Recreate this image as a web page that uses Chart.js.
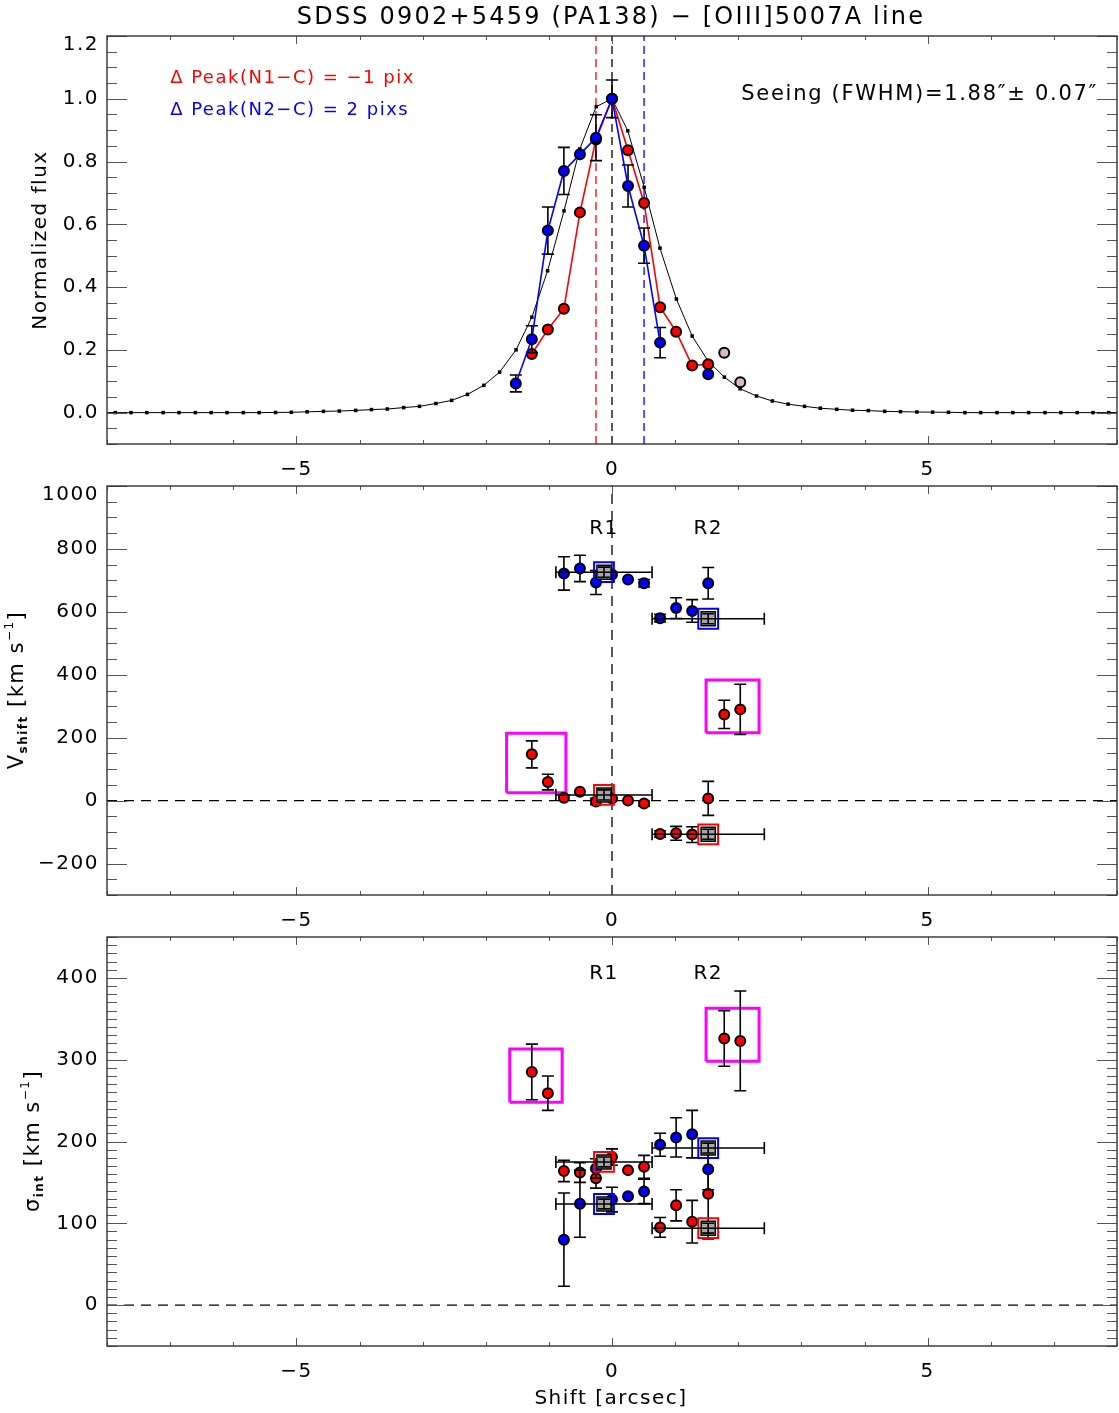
<!DOCTYPE html>
<html>
<head>
<meta charset="utf-8">
<title>SDSS 0902+5459 (PA138) - [OIII]5007A line</title>
<script src="https://cdn.jsdelivr.net/npm/chart.js@4.4.1/dist/chart.umd.min.js"></script>
<style>
html,body{margin:0;padding:0;background:#fff;}
#wrap{position:relative;width:1119px;height:1413px;overflow:hidden;background:#fff;}
#wrap canvas{position:absolute;left:0;}
</style>
</head>
<body>
<div id="wrap">
<canvas id="c1" width="1119" height="480" style="top:0px"></canvas>
<canvas id="c2" width="1119" height="480" style="top:450px"></canvas>
<canvas id="c3" width="1119" height="513" style="top:900px"></canvas>
</div>
<script>
// ================= DATA =================
const xTickValues = [-5, 0, 5];
const fluxTickValues = [0, 0.2, 0.4, 0.6, 0.8, 1.0, 1.2];
const vTickValues = [-200, 0, 200, 400, 600, 800, 1000];
const sigmaTickValues = [0, 100, 200, 300, 400];

// seeing profile (small black squares)
const profileX = [-8.13,-7.87,-7.62,-7.37,-7.11,-6.86,-6.60,-6.35,-6.10,-5.84,-5.59,-5.33,-5.08,-4.83,-4.57,-4.32,-4.06,-3.81,-3.56,-3.30,-3.05,-2.79,-2.54,-2.29,-2.03,-1.78,-1.52,-1.27,-1.02,-0.76,-0.51,-0.25,0,
  0.25,0.51,0.76,1.02,1.27,1.52,1.78,2.03,2.29,2.54,2.79,3.05,3.30,3.56,3.81,4.06,4.32,4.57,4.83,5.08,5.33,5.59,5.84,6.10,6.35,6.60,6.86,7.11,7.37,7.62,7.87,8.13];
const profileFlux = [0,0,0,0,0,0,0,0,0,0,0,
  0.0005,0.001,0.0025,0.004,0.005,0.007,0.0096,0.0115,0.016,0.020,0.029,0.039,0.058,0.087,0.129,0.200,0.304,0.452,0.643,0.840,0.975,1.000,
  0.898,0.718,0.524,0.362,0.244,0.165,0.113,0.076,0.053,0.037,0.027,0.020,0.014,0.0105,0.0075,0.0064,0.004,0.003,0.002,0.0015,0.001,
  0,0,0,0,0,0,0,0,0,0,0];

// N1 (red) and N2 (blue) spatial profiles
const redFluxX = [-1.27,-1.016,-0.762,-0.508,-0.254,0,0.254,0.508,0.762,1.016,1.27,1.524];
const redFlux  = [0.187,0.265,0.331,0.638,0.870,1.0,0.836,0.668,0.336,0.258,0.150,0.154];
const blueFluxX = [-1.524,-1.27,-1.016,-0.762,-0.508,-0.254,0,0.254,0.508,0.762,1.524];
const blueFlux  = [0.093,0.234,0.580,0.770,0.823,0.876,1.0,0.722,0.532,0.223,0.122];
const blueFluxErr = [0.027,0.043,0.075,0.075,0,0.073,0.06,0.067,0.056,0.048,0];
const extraFluxX = [1.778,2.032];
const extraFlux  = [0.191,0.097];
const peakLineX = [-0.254, 0, 0.508];   // N1 peak, centre, N2 peak

// velocity shift
const redX  = [-1.27,-1.016,-0.762,-0.508,-0.254,0,0.254,0.508,0.762,1.016,1.27,1.524,1.778,2.032];
const redV  = [147,59,9,28,-3,7,0,-9,-106,-104,-108,7,274,290];
const redVErr = [43,25,8,0,10,0,0,8,10,22,25,54,45,80];
const blueX = [-0.762,-0.508,-0.254,0,0.254,0.508,0.762,1.016,1.27,1.524];
const blueV = [722,738,693,719,703,691,580,612,603,691];
const blueVErr = [53,42,38,0,0,12,12,33,36,50];
const regionNames = ['R1','R2'];
const regionX = [-0.127, 1.524];
const regionXErr = [0.762, 0.889];
const regionRedV = [18, -107];
const regionBlueV = [726, 578];
const regionVErr = [16, 16];
const boxVX = [[-1.67,-0.73],[1.49,2.33]];
const boxVY = [[25,214],[216,383]];

// intrinsic dispersion
const redSigma = [285,259,164,162,155,181,165,169,95,122,102,136,326,323];
const redSigmaErr = [34,21,13,12,12,10,0,14,12,19,26,55,34,61];
const blueSigma = [80,124,167,129,133,139,196,205,209,166];
const blueSigmaErr = [57,41,12,15,0,15,14,24,29,25];
const regionRedSigma = [175, 94];
const regionBlueSigma = [123.6, 192];
const regionSigmaErr = [6, 6];
const boxSX = [[-1.62,-0.79],[1.49,2.33]];
const boxSY = [[248,313],[298,363]];

// ================= STYLE / HELPERS =================
const FAMILY = "'DejaVu Sans', sans-serif";
const LS = '1.5px';
const RED = '#ff0000', BLUE = '#0000ff', MAG = '#ff00ff', PINK = '#dbb9b6', GRAY = '#a6a6a6';

Chart.defaults.font.family = FAMILY;
Chart.defaults.font.size = 20;
Chart.defaults.color = '#000';
Chart.defaults.animation = false;

const pts = (xs, ys) => xs.map((x, i) => ({x: x, y: ys[i]}));
const fmtNum = (v, d) => Number(v).toFixed(d).replace('-', '\u2212');

function setLS(chart) { try { chart.ctx.letterSpacing = LS; } catch (e) {} }
const lsPlugin = { id: 'ls', beforeUpdate: setLS, beforeLayout: setLS, beforeDraw: setLS };

function drawErr(chart, ds) {
  if (!ds.errY && !ds.errX) return;
  const xs = chart.scales.x, ys = chart.scales.y, ctx = chart.ctx, a = chart.chartArea;
  ctx.save();
  ctx.beginPath(); ctx.rect(a.left, a.top, a.right - a.left, a.bottom - a.top); ctx.clip();
  ctx.strokeStyle = '#000'; ctx.lineWidth = 1.6;
  const cap = 6;
  ds.data.forEach((p, i) => {
    const px = xs.getPixelForValue(p.x), py = ys.getPixelForValue(p.y);
    const ey = ds.errY ? ds.errY[i] : 0;
    const ex = ds.errX ? ds.errX[i] : 0;
    ctx.beginPath();
    if (ey > 0) {
      const y1 = ys.getPixelForValue(p.y - ey), y2 = ys.getPixelForValue(p.y + ey);
      ctx.moveTo(px, y1); ctx.lineTo(px, y2);
      ctx.moveTo(px - cap, y1); ctx.lineTo(px + cap, y1);
      ctx.moveTo(px - cap, y2); ctx.lineTo(px + cap, y2);
    }
    if (ex > 0) {
      const x1 = xs.getPixelForValue(p.x - ex), x2 = xs.getPixelForValue(p.x + ex);
      ctx.moveTo(x1, py); ctx.lineTo(x2, py);
      ctx.moveTo(x1, py - cap); ctx.lineTo(x1, py + cap);
      ctx.moveTo(x2, py - cap); ctx.lineTo(x2, py + cap);
    }
    ctx.stroke();
  });
  ctx.restore();
}
const errPlugin = {
  id: 'errbars',
  beforeDatasetDraw(chart, args) { const ds = chart.data.datasets[args.index]; if (!ds.errAfter) drawErr(chart, ds); },
  afterDatasetDraw(chart, args) { const ds = chart.data.datasets[args.index]; if (ds.errAfter) drawErr(chart, ds); }
};

const framePlugin = {
  id: 'frame',
  afterDraw(chart, args, o) {
    const ctx = chart.ctx, a = chart.chartArea, xs = chart.scales.x, ys = chart.scales.y;
    ctx.save();
    ctx.strokeStyle = '#555'; ctx.lineWidth = 1;
    ctx.beginPath();
    const isMajor = (v, step) => Math.abs(v / step - Math.round(v / step)) < 1e-6;
    for (let k = Math.ceil(xs.min / o.xMinor - 1e-9); k * o.xMinor <= xs.max + 1e-9; k++) {
      const v = k * o.xMinor;
      const px = Math.round(xs.getPixelForValue(v)) + 0.5;
      const L = isMajor(v, o.xMajor) ? 8 : 4;
      ctx.moveTo(px, a.bottom); ctx.lineTo(px, a.bottom - L);
      ctx.moveTo(px, a.top); ctx.lineTo(px, a.top + L);
    }
    for (let k = Math.ceil(ys.min / o.yMinor - 1e-9); k * o.yMinor <= ys.max + 1e-9; k++) {
      const v = k * o.yMinor;
      const py = Math.round(ys.getPixelForValue(v)) + 0.5;
      const L = isMajor(v, o.yMajor) ? 20 : 10;
      ctx.moveTo(a.left, py); ctx.lineTo(a.left + L, py);
      ctx.moveTo(a.right, py); ctx.lineTo(a.right - L, py);
    }
    ctx.stroke();
    ctx.strokeStyle = '#333'; ctx.lineWidth = 1.4;
    ctx.strokeRect(a.left, a.top, a.right - a.left, a.bottom - a.top);
    ctx.restore();
  }
};

function drawRich(ctx, segs, x, y, align, rot, color, ls) {
  ctx.save();
  ctx.translate(x, y); ctx.rotate(rot || 0);
  ctx.letterSpacing = ls || LS;
  ctx.fillStyle = color; ctx.textBaseline = 'alphabetic';
  const base = segs[0].size * 0.36;
  let total = 0;
  const ws = segs.map(s => { ctx.font = (s.bold ? 'bold ' : '') + s.size + 'px ' + FAMILY; const w = ctx.measureText(s.t).width; total += w; return w; });
  let cx = align === 'center' ? -total / 2 : (align === 'right' ? -total : 0);
  segs.forEach((s, i) => {
    ctx.font = (s.bold ? 'bold ' : '') + s.size + 'px ' + FAMILY;
    ctx.fillText(s.t, cx, base + (s.dy || 0));
    cx += ws[i];
  });
  ctx.restore();
}
const textPlugin = {
  id: 'texts',
  afterDraw(chart, args, opts) {
    const ctx = chart.ctx, xs = chart.scales.x, ys = chart.scales.y;
    (opts.items || []).forEach(it => {
      const px = (it.xv !== undefined ? xs.getPixelForValue(it.xv) : it.px) + (it.dx || 0);
      const py = (it.yv !== undefined ? ys.getPixelForValue(it.yv) : it.py) + (it.dy || 0);
      drawRich(ctx, it.segs, px, py, it.align || 'center', it.rot || 0, it.color || '#000', it.ls);
    });
  }
};

function xScale(h) {
  return {
    type: 'linear', min: -8, max: 8,
    afterBuildTicks: s => { s.ticks = xTickValues.map(v => ({value: v})); },
    ticks: { callback: v => fmtNum(v, 0), padding: 14, maxRotation: 0, autoSkip: false, font: {size: 20} },
    grid: { display: false, drawTicks: false }, border: { display: false },
    afterFit: s => { s.height = h; s.paddingLeft = 0; s.paddingRight = 0; }
  };
}
// the top-most labelled value sits on the frame edge; it is drawn (shifted) by the text plugin
function yScale(min, max, vals, dec) {
  return {
    type: 'linear', min: min, max: max,
    afterBuildTicks: s => { s.ticks = vals.map(v => ({value: v})); },
    ticks: { callback: v => (Math.abs(v - max) < 1e-9 ? '' : fmtNum(v, dec)), padding: 8, autoSkip: false,
      labelOffset: 0, font: {size: 20} },
    grid: { display: false, drawTicks: false }, border: { display: false },
    afterFit: s => { s.width = 107; s.paddingTop = 0; s.paddingBottom = 0; }
  };
}
function baseOpts(padTop, xh, y, frame, texts) {
  return {
    responsive: false, maintainAspectRatio: false, animation: false,
    layout: { autoPadding: false, padding: { top: padTop, right: 2, left: 0, bottom: 0 } },
    scales: { x: xScale(xh), y: y },
    plugins: { legend: { display: false }, tooltip: { enabled: false }, title: { display: false },
      frame: frame, texts: { items: texts } }
  };
}
const dashed = (x0, y0, x1, y1, color, dash) => ({
  data: [{x: x0, y: y0}, {x: x1, y: y1}], showLine: true, borderColor: color, borderWidth: 1.3,
  borderDash: dash, pointRadius: 0, order: 30
});
const box = (xr, yr) => ({
  data: [{x: xr[0], y: yr[0]}, {x: xr[1], y: yr[0]}, {x: xr[1], y: yr[1]}, {x: xr[0], y: yr[1]}, {x: xr[0], y: yr[0]}],
  showLine: true, borderColor: MAG, borderWidth: 3, borderJoinStyle: 'miter', pointRadius: 0, order: 25
});
const circles = (data, fill, extra) => Object.assign({
  data: data, pointRadius: 5, pointBackgroundColor: fill, pointBorderColor: '#000', pointBorderWidth: 2,
  pointHoverRadius: 5
}, extra || {});
function squares(xs, ys, color, errY) {
  return [
    { data: pts(xs, ys), pointStyle: 'rect', pointRadius: 14, pointBackgroundColor: 'rgba(0,0,0,0)',
      pointBorderColor: color, pointBorderWidth: 2, order: 2 },
    { data: pts(xs, ys), pointStyle: 'rect', pointRadius: 10, pointBackgroundColor: GRAY,
      pointBorderColor: '#000', pointBorderWidth: 1.5, errX: regionXErr, errY: errY, errAfter: true, order: 1 }
  ];
}
const topLabel = (vals, dec) => {
  const v = vals[vals.length - 1];
  return { px: 99, yv: v, dy: 7, align: 'right', ls: LS, segs: [{ t: fmtNum(v, dec), size: 20 }] };
};
const plugins = [lsPlugin, errPlugin, framePlugin, textPlugin];
const ROT = -Math.PI / 2;

// ================= PANEL 1 =================
const peakColors = [RED, '#000', BLUE];
new Chart(document.getElementById('c1'), {
  type: 'scatter',
  data: { datasets: [
    ...peakLineX.map((x, i) => dashed(x, -0.1, x, 1.2, peakColors[i], [8, 5])),
    { data: pts(profileX, profileFlux), showLine: true, borderColor: '#000', borderWidth: 1,
      pointStyle: 'rect', pointRadius: 2.5, pointBackgroundColor: '#000', pointBorderWidth: 0, order: 15 },
    circles(pts(redFluxX, redFlux), RED, { showLine: true, borderColor: RED, borderWidth: 1.6, order: 6 }),
    circles(pts(extraFluxX, extraFlux), PINK, { order: 5 }),
    circles(pts(blueFluxX, blueFlux), BLUE, { showLine: true, borderColor: BLUE, borderWidth: 1.6, errY: blueFluxErr, order: 4,
      segment: { borderColor: c => (c.p1.parsed.x - c.p0.parsed.x > 0.5 ? 'rgba(0,0,0,0)' : BLUE) } })
  ] },
  options: baseOpts(36, 36, yScale(-0.1, 1.2, fluxTickValues, 1),
    { xMinor: 1, xMajor: 5, yMinor: 0.05, yMajor: 0.2 },
    [
      topLabel(fluxTickValues, 1),
      { px: 611, py: 15, ls: '2.2px', segs: [{ t: 'SDSS 0902+5459 (PA138) \u2212 [OIII]5007A line', size: 24 }] },
      { xv: -7.0, yv: 1.07, align: 'left', color: RED, segs: [{ t: '\u0394 Peak(N1\u2212C) = \u22121 pix', size: 18 }] },
      { xv: -7.0, yv: 0.97, align: 'left', color: BLUE, segs: [{ t: '\u0394 Peak(N2\u2212C) = 2 pixs', size: 18 }] },
      { xv: 7.7, yv: 1.02, align: 'right', ls: '1.7px', segs: [{ t: 'Seeing (FWHM)=1.88\u2033\u00b1 0.07\u2033', size: 21 }] },
      { px: 39, py: 240, rot: ROT, segs: [{ t: 'Normalized flux', size: 20 }] }
    ]),
  plugins: plugins
});

// ================= PANEL 2 =================
new Chart(document.getElementById('c2'), {
  type: 'scatter',
  data: { datasets: [
    dashed(0, -300, 0, 1000, '#000', [10, 7]),
    dashed(-8, 0, 8, 0, '#000', [10, 7]),
    box(boxVX[0], boxVY[0]), box(boxVX[1], boxVY[1]),
    circles(pts(redX, redV), RED, { errY: redVErr, order: 6 }),
    circles(pts(blueX, blueV), BLUE, { errY: blueVErr, order: 5 }),
    ...squares(regionX, regionBlueV, BLUE, regionVErr),
    ...squares(regionX, regionRedV, RED, regionVErr)
  ] },
  options: baseOpts(36, 35, yScale(-300, 1000, vTickValues, 0),
    { xMinor: 1, xMajor: 5, yMinor: 50, yMajor: 200 },
    [
      topLabel(vTickValues, 0),
      { xv: regionX[0], yv: 870, segs: [{ t: regionNames[0], size: 20 }] },
      { xv: regionX[1], yv: 870, segs: [{ t: regionNames[1], size: 20 }] },
      { px: 15, py: 240, rot: ROT, segs: [
        { t: 'V', size: 21 }, { t: 'shift', size: 12, bold: true, dy: 4 }, { t: ' [km s', size: 21 },
        { t: '\u22121', size: 12, dy: -10 }, { t: ']', size: 21 } ] }
    ]),
  plugins: plugins
});

// ================= PANEL 3 =================
new Chart(document.getElementById('c3'), {
  type: 'scatter',
  data: { datasets: [
    dashed(-8, 0, 8, 0, '#000', [10, 7]),
    box(boxSX[0], boxSY[0]), box(boxSX[1], boxSY[1]),
    circles(pts(redX, redSigma), RED, { errY: redSigmaErr, order: 6 }),
    circles(pts(blueX, blueSigma), BLUE, { errY: blueSigmaErr, order: 5 }),
    ...squares(regionX, regionBlueSigma, BLUE, regionSigmaErr),
    ...squares(regionX, regionRedSigma, RED, regionSigmaErr)
  ] },
  options: baseOpts(37, 67, yScale(-50, 450, sigmaTickValues, 0),
    { xMinor: 1, xMajor: 5, yMinor: 10, yMajor: 100 },
    [
      { xv: regionX[0], yv: 408, segs: [{ t: regionNames[0], size: 20 }] },
      { xv: regionX[1], yv: 408, segs: [{ t: regionNames[1], size: 20 }] },
      { px: 611, py: 497, segs: [{ t: 'Shift [arcsec]', size: 20 }] },
      { px: 31, py: 241, rot: ROT, segs: [
        { t: '\u03c3', size: 21 }, { t: 'int', size: 12, bold: true, dy: 4 }, { t: ' [km s', size: 21 },
        { t: '\u22121', size: 12, dy: -10 }, { t: ']', size: 21 } ] }
    ]),
  plugins: plugins
});
</script>
</body>
</html>
